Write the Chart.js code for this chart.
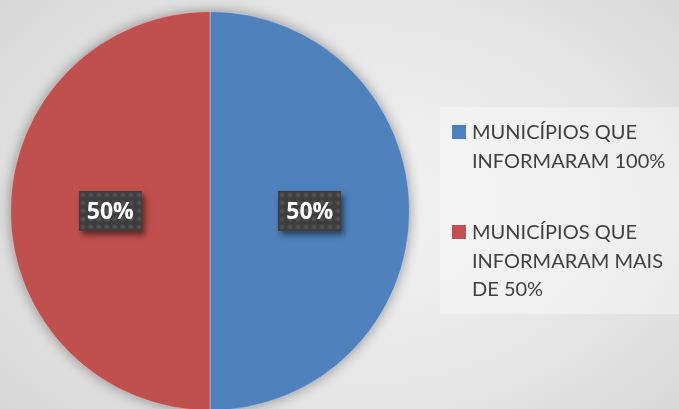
<!DOCTYPE html>
<html>
<head>
<meta charset="utf-8">
<script src="https://cdn.jsdelivr.net/npm/chart.js@4/dist/chart.umd.min.js"></script>
<style>
html,body{margin:0;padding:0;width:679px;height:409px;overflow:hidden;}
body{background:radial-gradient(ellipse 75% 85% at 52% 50%, #f3f3f3 0%, #e6e6e6 55%, #d2d2d2 100%);position:relative;font-family:Lato,sans-serif;}
#wrap{position:absolute;left:0;top:0;width:679px;height:422px;}
#legend{position:absolute;left:440px;top:107px;width:239px;height:207px;background:rgba(255,255,255,0.35);box-sizing:border-box;padding-top:12px;}
.item{display:flex;align-items:flex-start;margin-left:12px;margin-bottom:45px;}
.sw{width:14px;height:14px;margin-top:6px;margin-right:6px;flex:none;}
.txt{font-size:20px;line-height:28.5px;color:#404040;white-space:nowrap;margin-top:-2px;}
</style>
</head>
<body>
<div id="wrap"><canvas id="c"></canvas></div>
<div id="legend"></div>
<script>
const categories = ["MUNICÍPIOS QUE\nINFORMARAM 100%", "MUNICÍPIOS QUE\nINFORMARAM MAIS\nDE 50%"];
const values = [50, 50];
const percentLabels = ["50%", "50%"];
const colors = ["#4F81BD", "#C0504D"];

// HTML legend built from categories
const leg = document.getElementById('legend');
categories.forEach((c, i) => {
  const it = document.createElement('div'); it.className = 'item';
  const sw = document.createElement('div'); sw.className = 'sw'; sw.style.background = colors[i];
  const tx = document.createElement('div'); tx.className = 'txt';
  tx.innerHTML = c.split('\n').join('<br>');
  it.appendChild(sw); it.appendChild(tx); leg.appendChild(it);
});

function makePattern(ctx){
  const p = document.createElement('canvas'); p.width = 8; p.height = 8;
  const g = p.getContext('2d');
  g.fillStyle = '#3d3d3d'; g.fillRect(0,0,8,8);
  const rg = g.createRadialGradient(4,4,0,4,4,3.5);
  rg.addColorStop(0,'rgba(95,95,95,0.8)'); rg.addColorStop(1,'rgba(95,95,95,0)');
  g.fillStyle = rg; g.fillRect(0,0,8,8);
  return ctx.createPattern(p,'repeat');
}

const shadowPlugin = {
  id: 'pieShadow',
  beforeDatasetsDraw(chart){
    const arc = chart.getDatasetMeta(0).data[0];
    if(!arc) return;
    const ctx = chart.ctx; ctx.save();
    ctx.shadowColor = 'rgba(0,0,0,0.45)'; ctx.shadowBlur = 14;
    ctx.beginPath(); ctx.arc(arc.x, arc.y, arc.outerRadius - 1, 0, Math.PI*2);
    ctx.fillStyle = '#888'; ctx.fill(); ctx.restore();
  }
};

const labelPlugin = {
  id: 'boxLabels',
  afterDatasetsDraw(chart){
    const ctx = chart.ctx;
    const pat = makePattern(ctx);
    chart.getDatasetMeta(0).data.forEach((arc, i) => {
      const pos = arc.tooltipPosition();
      const w = 63, h = 40;
      const x = Math.round(pos.x - w/2), y = Math.round(pos.y - h/2);
      ctx.save();
      ctx.shadowColor = 'rgba(0,0,0,0.5)'; ctx.shadowBlur = 6; ctx.shadowOffsetX = 3; ctx.shadowOffsetY = 4;
      ctx.fillStyle = '#3d3d3d'; ctx.fillRect(x, y, w, h);
      ctx.restore();
      ctx.save();
      ctx.translate(x, y);
      ctx.fillStyle = pat; ctx.fillRect(0, 0, w, h);
      ctx.restore();
      ctx.save();
      ctx.fillStyle = '#ffffff'; ctx.font = 'bold 23px "Open Sans", sans-serif';
      ctx.textAlign = 'center'; ctx.textBaseline = 'middle';
      ctx.fillText(percentLabels[i], pos.x, pos.y + 1);
      ctx.restore();
    });
  }
};

new Chart(document.getElementById('c'), {
  type: 'pie',
  data: {
    labels: categories,
    datasets: [{ data: values, backgroundColor: colors, borderColor: 'rgba(255,255,255,0.35)', borderWidth: 1 }]
  },
  options: {
    responsive: true, maintainAspectRatio: false, animation: false,
    layout: { padding: { left: 10, top: 10, bottom: 10, right: 269 } },
    plugins: { legend: { display: false }, tooltip: { enabled: false } }
  },
  plugins: [shadowPlugin, labelPlugin]
});
</script>
</body>
</html>
